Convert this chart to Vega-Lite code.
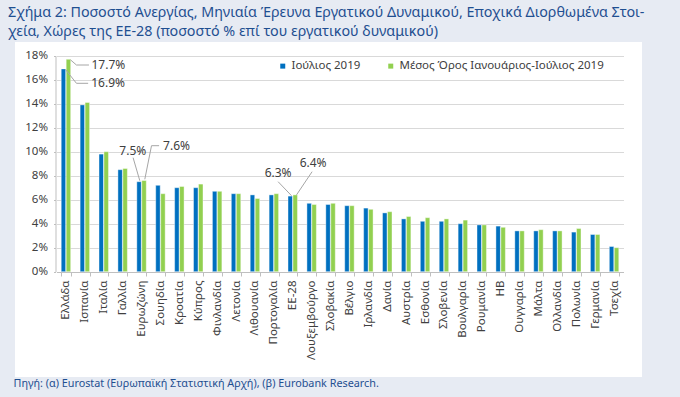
{
  "$schema": "https://vega.github.io/schema/vega-lite/v6.json",
  "width": 627,
  "height": 335,
  "autosize": {"type": "none"},
  "padding": {"left": 15, "top": 42, "right": 38, "bottom": 20},
  "background": "#e7ebf3",
  "view": {"fill": "white", "stroke": null},
  "config": {"font": "Noto Sans"},
  "title": {
    "text": ["Σχήμα 2: Ποσοστό Ανεργίας, Μηνιαία Έρευνα Εργατικού Δυναμικού, Εποχικά Διορθωμένα Στοι-", "χεία, Χώρες της ΕΕ-28 (ποσοστό % επί του εργατικού δυναμικού)"],
    "anchor": "start",
    "frame": "group",
    "dx": -7,
    "fontSize": 14.3,
    "fontWeight": "normal",
    "color": "#1f4f91",
    "lineHeight": 19,
    "offset": 3
  },
  "data": {"values": [
    {"country": "Ελλάδα", "jul": 0.169, "avg": 0.177},
    {"country": "Ισπανία", "jul": 0.139, "avg": 0.141},
    {"country": "Ιταλία", "jul": 0.098, "avg": 0.100},
    {"country": "Γαλλία", "jul": 0.085, "avg": 0.086},
    {"country": "Ευρωζώνη", "jul": 0.075, "avg": 0.076},
    {"country": "Σουηδία", "jul": 0.072, "avg": 0.065},
    {"country": "Κροατία", "jul": 0.070, "avg": 0.071},
    {"country": "Κύπρος", "jul": 0.070, "avg": 0.073},
    {"country": "Φινλανδία", "jul": 0.067, "avg": 0.067},
    {"country": "Λετονία", "jul": 0.065, "avg": 0.065},
    {"country": "Λιθουανία", "jul": 0.064, "avg": 0.061},
    {"country": "Πορτογαλία", "jul": 0.064, "avg": 0.065},
    {"country": "ΕΕ-28", "jul": 0.063, "avg": 0.064},
    {"country": "Λουξεμβούργο", "jul": 0.057, "avg": 0.056},
    {"country": "Σλοβακία", "jul": 0.056, "avg": 0.057},
    {"country": "Βέλγιο", "jul": 0.055, "avg": 0.055},
    {"country": "Ιρλανδία", "jul": 0.053, "avg": 0.052},
    {"country": "Δανία", "jul": 0.049, "avg": 0.050},
    {"country": "Αυστρία", "jul": 0.044, "avg": 0.046},
    {"country": "Εσθονία", "jul": 0.042, "avg": 0.045},
    {"country": "Σλοβενία", "jul": 0.042, "avg": 0.044},
    {"country": "Βουλγαρία", "jul": 0.040, "avg": 0.043},
    {"country": "Ρουμανία", "jul": 0.039, "avg": 0.039},
    {"country": "ΗΒ", "jul": 0.038, "avg": 0.037},
    {"country": "Ουγγαρία", "jul": 0.034, "avg": 0.034},
    {"country": "Μάλτα", "jul": 0.034, "avg": 0.035},
    {"country": "Ολλανδία", "jul": 0.034, "avg": 0.034},
    {"country": "Πολωνία", "jul": 0.033, "avg": 0.036},
    {"country": "Γερμανία", "jul": 0.031, "avg": 0.031},
    {"country": "Τσεχία", "jul": 0.021, "avg": 0.020}
  ]},
  "transform": [{"fold": ["jul", "avg"], "as": ["key", "value"]}],
  "encoding": {
    "x": {
      "field": "country", "type": "nominal", "sort": null,
      "scale": {"range": [41.5, 608.5], "paddingInner": 0.5, "paddingOuter": 0.25},
      "axis": {
        "title": "Πηγή: (α) Eurostat (Ευρωπαϊκή Στατιστική Αρχή), (β) Eurobank Research.",
        "titleX": -2, "titleY": 111, "titleAlign": "left", "titleBaseline": "middle", "titleAnchor": "start",
        "titleFontSize": 10.8, "titleFontWeight": "normal", "titleColor": "#1f4f91",
        "offset": -105,
        "labelAngle": -90, "labelFontSize": 11.5, "labelColor": "#404040", "labelPadding": 4,
        "tickSize": 4, "tickColor": "#bfbfbf", "domainColor": "#bfbfbf", "tickBand": "extent", "grid": false
      }
    },
    "y": {
      "field": "value", "type": "quantitative",
      "scale": {"domain": [0, 0.18], "range": [229.7, 13.7], "nice": false},
      "axis": {
        "title": null, "values": [0, 0.02, 0.04, 0.06, 0.08, 0.1, 0.12, 0.14, 0.16, 0.18], "format": ".0%",
        "offset": -40.5, "labelFontSize": 11.5, "labelColor": "#404040", "labelPadding": 6,
        "tickSize": 2, "tickColor": "#bfbfbf", "domainColor": "#bfbfbf", "gridColor": "#d9d9d9"
      }
    }
  },
  "layer": [
    {
      "mark": {"type": "bar", "stroke": "white", "strokeWidth": 0.4},
      "encoding": {
        "xOffset": {"field": "key", "type": "nominal", "scale": {"domain": ["jul", "avg"], "paddingInner": 0.1}},
        "color": {
          "field": "key", "type": "nominal",
          "scale": {"domain": ["jul", "avg"], "range": ["#0070c0", "#92d050"]},
          "legend": {
            "title": null, "orient": "none", "legendX": 262, "legendY": 18, "direction": "horizontal",
            "labelExpr": "datum.value === 'jul' ? 'Ιούλιος 2019' : 'Μέσος Όρος Ιανουάριος-Ιούλιος 2019'",
            "symbolType": "square", "symbolSize": 25, "symbolStrokeWidth": 0, "labelOffset": 3,
            "columnPadding": 24, "labelFontSize": 11.5, "labelColor": "#404040", "labelLimit": 400, "padding": 0
          }
        }
      }
    },
    {
      "transform": [{"filter": "datum.country === 'Ελλάδα' && datum.key === 'avg'"}],
      "mark": {"type": "rule", "color": "#a6a6a6", "xOffset": 4.5, "yOffset": 0.5, "x2Offset": 10.5, "y2Offset": 5.7},
      "encoding": {"x2": {"field": "country"}, "y2": {"field": "value"}}
    },
    {
      "transform": [{"filter": "datum.country === 'Ελλάδα' && datum.key === 'avg'"}],
      "mark": {"type": "rule", "color": "#a6a6a6", "xOffset": 10.5, "yOffset": 5.7, "x2Offset": 23, "y2Offset": 5.7},
      "encoding": {"x2": {"field": "country"}, "y2": {"field": "value"}}
    },
    {
      "transform": [{"filter": "datum.country === 'Ελλάδα' && datum.key === 'avg'"}],
      "mark": {"type": "text", "align": "left", "baseline": "middle", "dx": 25.5, "dy": 5.7, "fontSize": 12, "color": "#404040"},
      "encoding": {"text": {"field": "value", "format": ".1%"}}
    },
    {
      "transform": [{"filter": "datum.country === 'Ελλάδα' && datum.key === 'jul'"}],
      "mark": {"type": "rule", "color": "#a6a6a6", "xOffset": -0.5, "yOffset": 0.5, "x2Offset": 10.5, "y2Offset": 14.4},
      "encoding": {"x2": {"field": "country"}, "y2": {"field": "value"}}
    },
    {
      "transform": [{"filter": "datum.country === 'Ελλάδα' && datum.key === 'jul'"}],
      "mark": {"type": "rule", "color": "#a6a6a6", "xOffset": 10.5, "yOffset": 14.4, "x2Offset": 22.2, "y2Offset": 14.4},
      "encoding": {"x2": {"field": "country"}, "y2": {"field": "value"}}
    },
    {
      "transform": [{"filter": "datum.country === 'Ελλάδα' && datum.key === 'jul'"}],
      "mark": {"type": "text", "align": "left", "baseline": "middle", "dx": 25.3, "dy": 14.4, "fontSize": 12, "color": "#404040"},
      "encoding": {"text": {"field": "value", "format": ".1%"}}
    },
    {
      "transform": [{"filter": "datum.country === 'Ευρωζώνη' && datum.key === 'jul'"}],
      "mark": {"type": "rule", "color": "#a6a6a6", "xOffset": -1.75, "yOffset": -1, "x2Offset": -8.45, "y2Offset": -24},
      "encoding": {"x2": {"field": "country"}, "y2": {"field": "value"}}
    },
    {
      "transform": [{"filter": "datum.country === 'Ευρωζώνη' && datum.key === 'jul'"}],
      "mark": {"type": "text", "align": "center", "baseline": "middle", "dx": -8.75, "dy": -30.7, "fontSize": 12, "color": "#404040"},
      "encoding": {"text": {"field": "value", "format": ".1%"}}
    },
    {
      "transform": [{"filter": "datum.country === 'Ευρωζώνη' && datum.key === 'avg'"}],
      "mark": {"type": "rule", "color": "#a6a6a6", "xOffset": 3.25, "yOffset": -1.2, "x2Offset": 9.95, "y2Offset": -34.8},
      "encoding": {"x2": {"field": "country"}, "y2": {"field": "value"}}
    },
    {
      "transform": [{"filter": "datum.country === 'Ευρωζώνη' && datum.key === 'avg'"}],
      "mark": {"type": "rule", "color": "#a6a6a6", "xOffset": 9.95, "yOffset": -34.8, "x2Offset": 17.55, "y2Offset": -34.8},
      "encoding": {"x2": {"field": "country"}, "y2": {"field": "value"}}
    },
    {
      "transform": [{"filter": "datum.country === 'Ευρωζώνη' && datum.key === 'avg'"}],
      "mark": {"type": "text", "align": "left", "baseline": "middle", "dx": 21.5, "dy": -34.8, "fontSize": 12, "color": "#404040"},
      "encoding": {"text": {"field": "value", "format": ".1%"}}
    },
    {
      "transform": [{"filter": "datum.country === 'ΕΕ-28' && datum.key === 'jul'"}],
      "mark": {"type": "rule", "color": "#a6a6a6", "xOffset": -1.25, "yOffset": -0.4, "x2Offset": -14.65, "y2Offset": -14.4},
      "encoding": {"x2": {"field": "country"}, "y2": {"field": "value"}}
    },
    {
      "transform": [{"filter": "datum.country === 'ΕΕ-28' && datum.key === 'jul'"}],
      "mark": {"type": "text", "align": "center", "baseline": "middle", "dx": -14.65, "dy": -23.4, "fontSize": 12, "color": "#404040"},
      "encoding": {"text": {"field": "value", "format": ".1%"}}
    },
    {
      "transform": [{"filter": "datum.country === 'ΕΕ-28' && datum.key === 'avg'"}],
      "mark": {"type": "rule", "color": "#a6a6a6", "xOffset": 3.75, "yOffset": 0, "x2Offset": 19.35, "y2Offset": -23.2},
      "encoding": {"x2": {"field": "country"}, "y2": {"field": "value"}}
    },
    {
      "transform": [{"filter": "datum.country === 'ΕΕ-28' && datum.key === 'avg'"}],
      "mark": {"type": "text", "align": "center", "baseline": "middle", "dx": 20.35, "dy": -32.2, "fontSize": 12, "color": "#404040"},
      "encoding": {"text": {"field": "value", "format": ".1%"}}
    }
  ]
}
